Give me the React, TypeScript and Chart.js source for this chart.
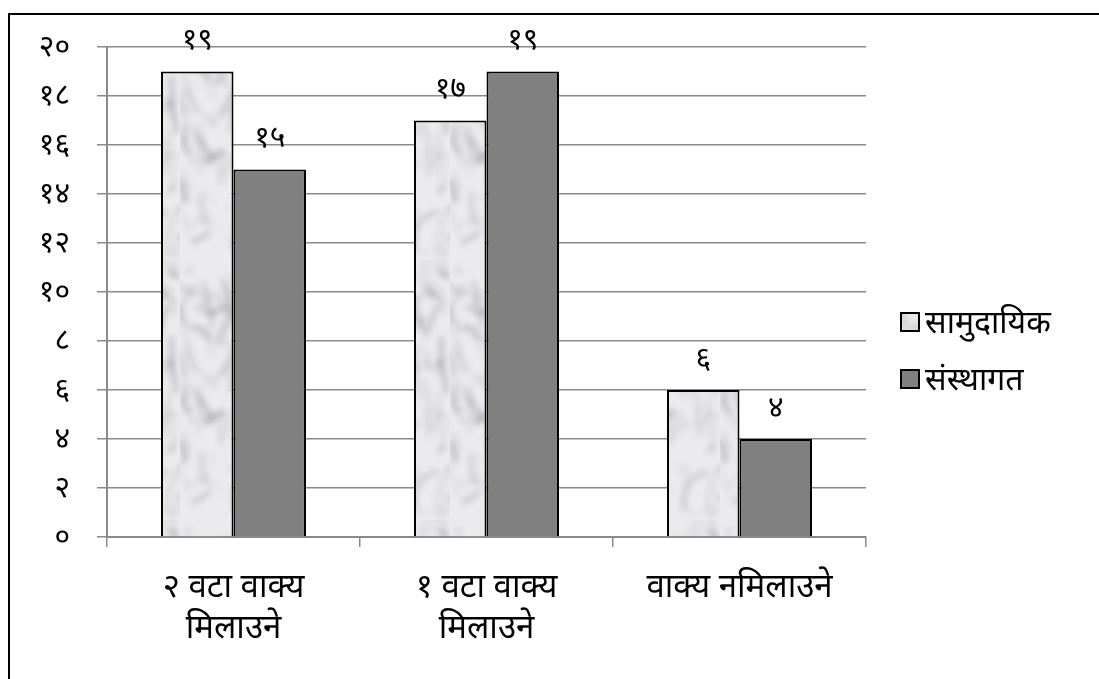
import React, { useEffect, useRef } from "react";
import { Chart, registerables } from "chart.js";

Chart.register(...registerables);

const categories: (string | string[])[] = [
  ["२ वटा वाक्य", "मिलाउने"],
  ["१ वटा वाक्य", "मिलाउने"],
  "वाक्य नमिलाउने",
];
const seriesNames = ["सामुदायिक", "संस्थागत"];
const communityValues = [19, 17, 6];
const institutionalValues = [15, 19, 4];
const yMin = 0;
const yMax = 20;
const yStep = 2;

const devDigits = "०१२३४५६७८९";
const toDev = (n: number | string) =>
  String(n).replace(/\d/g, (d) => devDigits[Number(d)]);

const FONT = "'Noto Sans', 'DejaVu Sans', sans-serif";
const GRID = "#8a8a8a";
const DARK = "#808080";

function makeMarble(ctx: CanvasRenderingContext2D) {
  const c = document.createElement("canvas");
  c.width = 90;
  c.height = 260;
  const g = c.getContext("2d")!;
  g.fillStyle = "#ebebee";
  g.fillRect(0, 0, c.width, c.height);
  let s = 12345;
  const rnd = () => {
    s = (s * 16807) % 2147483647;
    return s / 2147483647;
  };
  g.filter = "blur(3px)";
  for (let i = 0; i < 90; i++) {
    g.strokeStyle = `rgba(105,105,115,${0.1 + rnd() * 0.25})`;
    g.lineWidth = 1 + rnd() * 5;
    g.beginPath();
    const x = rnd() * c.width;
    const y = rnd() * c.height;
    g.moveTo(x, y);
    g.quadraticCurveTo(
      x + (rnd() - 0.5) * 20,
      y + (rnd() - 0.5) * 20,
      x + (rnd() - 0.5) * 40,
      y - rnd() * 35
    );
    g.stroke();
  }
  g.filter = "none";
  return ctx.createPattern(c, "repeat")!;
}

export default function App() {
  const ref = useRef<HTMLCanvasElement>(null);

  useEffect(() => {
    const canvas = ref.current!;
    const ctx = canvas.getContext("2d")!;
    const marble = makeMarble(ctx);

    const framePlugin = {
      id: "frame",
      beforeDraw(chart: any) {
        const c = chart.ctx;
        c.save();
        c.fillStyle = "#ffffff";
        c.fillRect(0, 0, chart.width, chart.height);
        c.strokeStyle = "#000";
        c.lineWidth = 2;
        c.beginPath();
        c.moveTo(8, 14);
        c.lineTo(chart.width, 14);
        c.moveTo(9, 13);
        c.lineTo(9, chart.height);
        c.stroke();
        c.restore();
      },
    };

    const labelPlugin = {
      id: "valueLabels",
      afterDatasetsDraw(chart: any) {
        const c = chart.ctx;
        c.save();
        c.font = `30px ${FONT}`;
        c.fillStyle = "#000";
        c.textAlign = "center";
        c.textBaseline = "middle";
        chart.data.datasets.forEach((ds: any, di: number) => {
          const meta = chart.getDatasetMeta(di);
          meta.data.forEach((el: any, i: number) => {
            c.fillText(toDev(ds.data[i]), el.x, el.y - 31);
          });
        });
        c.restore();
      },
    };

    const legendPlugin = {
      id: "customLegend",
      afterDraw(chart: any) {
        const c = chart.ctx;
        c.save();
        const fills = [marble, DARK];
        const ys = [322, 379];
        seriesNames.forEach((name, i) => {
          c.fillStyle = fills[i];
          c.fillRect(901, ys[i] - 9, 18, 18);
          c.strokeStyle = "#000";
          c.lineWidth = 2;
          c.strokeRect(901, ys[i] - 9, 18, 18);
          c.fillStyle = "#000";
          c.font = `32px ${FONT}`;
          c.textAlign = "left";
          c.textBaseline = "middle";
          c.fillText(name, 925, ys[i] + 2);
        });
        c.restore();
      },
    };

    const chart = new Chart(canvas, {
      type: "bar",
      data: {
        labels: categories,
        datasets: [
          {
            label: seriesNames[0],
            data: communityValues,
            backgroundColor: marble as any,
            borderColor: "#000",
            borderWidth: 2,
          },
          {
            label: seriesNames[1],
            data: institutionalValues,
            backgroundColor: DARK,
            borderColor: "#000",
            borderWidth: 2,
          },
        ],
      },
      options: {
        animation: false,
        responsive: false,
        events: [],
        layout: { padding: { left: 0, right: 233, top: 47, bottom: 0 } },
        plugins: {
          legend: { display: false },
          tooltip: { enabled: false },
        },
        datasets: {
          bar: { barPercentage: 1, categoryPercentage: 0.573 },
        },
        scales: {
          x: {
            offset: true,
            grid: {
              display: true,
              offset: true,
              drawOnChartArea: false,
              drawTicks: true,
              tickLength: 10,
              color: GRID,
              lineWidth: 1.5,
            },
            border: { color: GRID, width: 2 },
            ticks: {
              color: "#000",
              font: { family: FONT, size: 33, lineHeight: 1.25 },
              padding: 20,
              maxRotation: 0,
              autoSkip: false,
            },
            afterFit(scale: any) {
              scale.height = 142;
            },
          },
          y: {
            min: yMin,
            max: yMax,
            grid: {
              color: GRID,
              lineWidth: 1.5,
              tickLength: 10,
            },
            border: { color: GRID, width: 2 },
            ticks: {
              stepSize: yStep,
              color: "#000",
              font: { family: FONT, size: 30 },
              padding: 27,
              callback: (v: any) => toDev(v),
            },
            afterFit(scale: any) {
              scale.width = 107;
            },
          },
        },
      },
      plugins: [framePlugin, labelPlugin, legendPlugin],
    });
    return () => chart.destroy();
  }, []);

  return (
    <canvas
      ref={ref}
      width={1099}
      height={679}
      style={{ position: "fixed", left: 0, top: 0, width: 1099, height: 679 }}
    />
  );
}
